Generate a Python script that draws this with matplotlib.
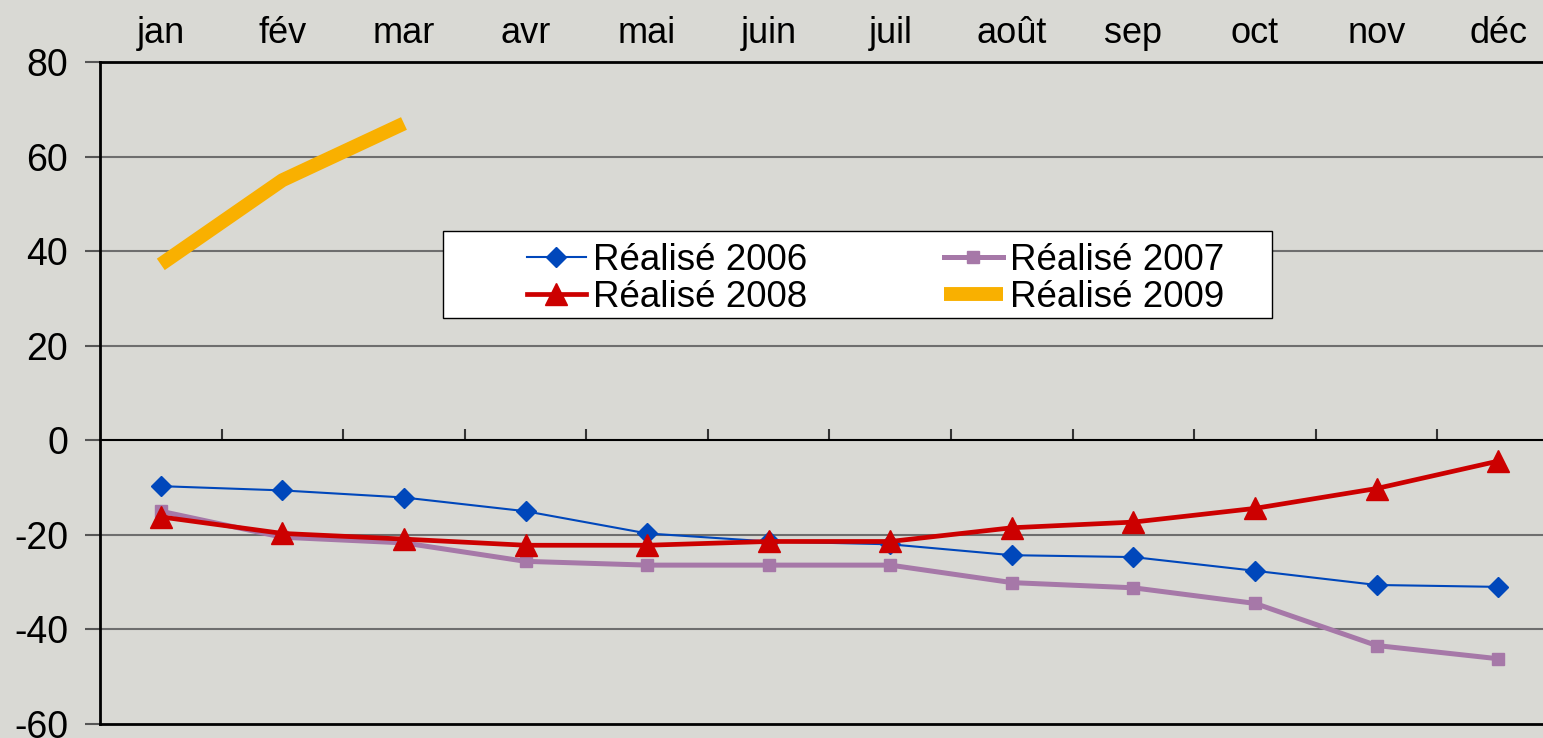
import matplotlib.pyplot as plt
from matplotlib.patches import Rectangle

plt.rcParams['font.family'] = ['Liberation Sans', 'DejaVu Sans']
plt.rcParams['axes.unicode_minus'] = False

# Data
months = ['jan', 'fév', 'mar', 'avr', 'mai', 'juin', 'juil', 'août', 'sep', 'oct', 'nov', 'déc']
r2006 = [-9.7, -10.6, -12.1, -15.0, -19.7, -21.4, -22.0, -24.3, -24.7, -27.6, -30.6, -31.0]
r2007 = [-15.0, -20.5, -21.7, -25.6, -26.4, -26.4, -26.4, -30.1, -31.2, -34.5, -43.4, -46.2]
r2008 = [-16.2, -19.7, -20.9, -22.2, -22.2, -21.4, -21.4, -18.5, -17.3, -14.4, -10.2, -4.4]
r2009 = [37.2, 55.0, 67.0]

W, H = 1543, 738
bg = '#D9D9D4'

fig = plt.figure(figsize=(W / 100, H / 100), dpi=100, facecolor=bg)
ax = fig.add_axes([100 / W, 14 / H, 1459 / W, 662 / H], facecolor=bg)

x = list(range(len(months)))
l06, = ax.plot(x, r2006, color='#0047BB', lw=1.5, marker='D', ms=10, label='Réalisé 2006', zorder=3)
l07, = ax.plot(x, r2007, color='#A678A8', lw=3.6, marker='s', ms=8.5, label='Réalisé 2007', zorder=3)
l08, = ax.plot(x, r2008, color='#CC0000', lw=3.4, marker='^', ms=16, label='Réalisé 2008', zorder=3)
l09, = ax.plot(x[:len(r2009)], r2009, color='#F9B000', lw=10, solid_capstyle='butt',
               solid_joinstyle='round', label='Réalisé 2009', zorder=3)

ax.set_xlim(-0.5, 11.5)
ax.set_ylim(-60, 80)

# grid lines
for v in [60, 40, 20, -20, -40]:
    ax.axhline(v, color='#6E6E6E', lw=1.5, zorder=1)
ax.axhline(-60, color='black', lw=2, zorder=2, clip_on=False)

# spines: x axis sits at zero
ax.spines['bottom'].set_position(('data', 0))
ax.spines['bottom'].set_linewidth(1.5)
ax.spines['left'].set_linewidth(2)
ax.spines['top'].set_linewidth(2)
ax.spines['right'].set_visible(False)

# month labels on top, tick marks at category borders on the zero line
ax.set_xticks(x)
ax.set_xticklabels(months, fontsize=26)
ax.tick_params(axis='x', which='major', top=False, bottom=False, labeltop=True,
               labelbottom=False, length=0, pad=8)
ax.set_xticks([i + 0.5 for i in range(11)], minor=True)
ax.tick_params(axis='x', which='minor', bottom=True, direction='in', length=8,
               width=1.5, color='#333333')

ax.set_yticks([-60, -40, -20, 0, 20, 40, 60, 80])
ax.tick_params(axis='y', labelsize=27, length=11, width=1.5, color='#555555', pad=12)

# legend with white box
ax.add_patch(Rectangle((443 / W, 1 - 318 / H), 829 / W, 87 / H, transform=fig.transFigure,
                       facecolor='white', edgecolor='black', lw=1, zorder=4))
leg = ax.legend([l06, l08, l07, l09], ['Réalisé 2006', 'Réalisé 2008', 'Réalisé 2007', 'Réalisé 2009'],
                ncol=2, loc='center left', bbox_to_anchor=(527 / W, 1 - 279 / H),
                bbox_transform=fig.transFigure, frameon=False, fontsize=26.5,
                handlelength=1.6, handletextpad=0.2, columnspacing=3.7,
                labelspacing=0.05, borderpad=0, borderaxespad=0)
leg.set_zorder(5)

fig.savefig('out.png', dpi=100, facecolor=bg)
